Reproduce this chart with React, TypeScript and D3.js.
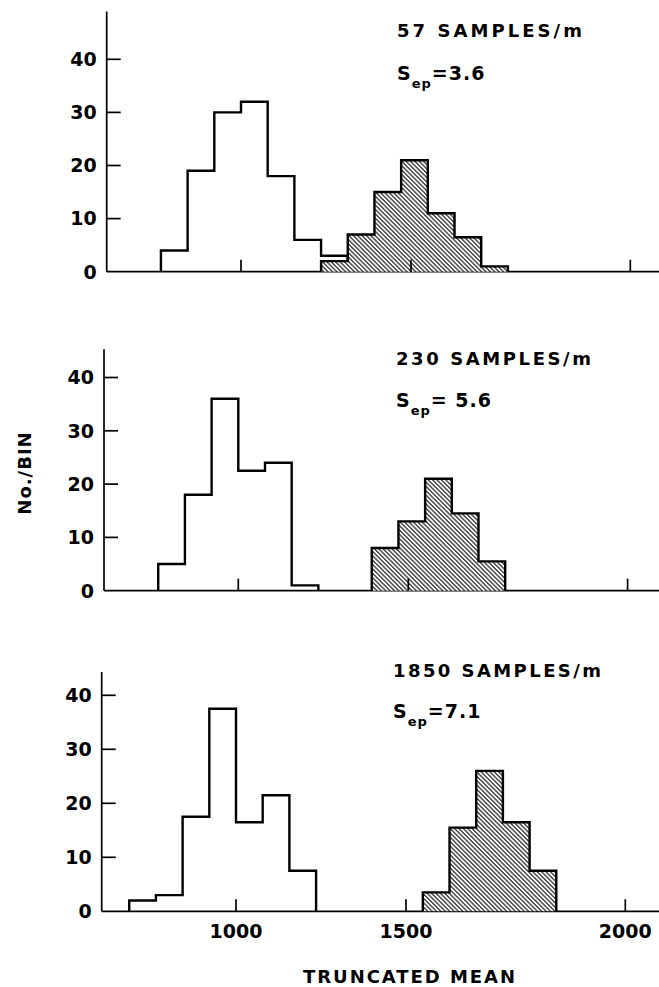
import * as d3 from 'd3';
import { useEffect, useRef } from 'react';

// bin width in truncated-mean units, bins aligned on 1000
const BIN = 78.5;

const sampleLabels = ['57 SAMPLES/m', '230 SAMPLES/m', '1850 SAMPLES/m'];
const sepValues = ['=3.6', '= 5.6', '=7.1'];

// open (unshaded) histograms
const openStarts = [764.5, 764.5, 686];
const openCounts = [
  [4, 19, 30, 32, 18, 6, 3],
  [5, 18, 36, 22.5, 24, 1],
  [2, 3, 17.5, 37.5, 16.5, 21.5, 7.5],
];

// hatched histograms
const hatchStarts = [1235.5, 1392.5, 1549.5];
const hatchCounts = [
  [2, 7, 15, 21, 11, 6.5, 1],
  [8, 13, 21, 14.5, 5.5],
  [3.5, 15.5, 26, 16.5, 7.5],
];

const yTicks = [0, 10, 20, 30, 40];
// the hand-drawn axis puts its last tick further right than a linear 2000 would sit
const xTicks = [1000, 1500, 2145];
const xTickLabels = ['1000', '1500', '2000'];

const W = 659;
const H = 987;
const FONT = "'DejaVu Sans', sans-serif";

// panel placement on the page
const panels = [
  { axisX: 106.7, base: 271.7, unit: 5.31, top: 49, textY: 37, textX: 397, sepY: 80, labelLen: 185 },
  { axisX: 104, base: 590.7, unit: 5.33, top: 45.3, textY: 365, textX: 396, sepY: 407, labelLen: 195 },
  { axisX: 101.7, base: 911.3, unit: 5.4, top: 44.3, textY: 677, textX: 393, sepY: 718, labelLen: 208 },
];

const App = () => {
  const svgRef = useRef(null);

  useEffect(() => {
    const svg = d3.select(svgRef.current).attr('width', W).attr('height', H);
    svg.selectAll('*').remove();

    const defs = svg.append('defs');
    const pat = defs.append('pattern')
      .attr('id', 'hatch')
      .attr('patternUnits', 'userSpaceOnUse')
      .attr('width', 3.1)
      .attr('height', 3.1)
      .attr('patternTransform', 'rotate(-45)');
    pat.append('rect').attr('width', 3.1).attr('height', 3.1).attr('fill', 'white');
    pat.append('line')
      .attr('x1', 1.55).attr('x2', 1.55).attr('y1', -1).attr('y2', 5)
      .attr('stroke', 'black').attr('stroke-width', 1.05);

    // x in units -> px from the y axis
    const x = d3.scaleLinear().domain([605, 2245]).range([0, 557.6]);

    const stepPoints = (start, counts) => {
      const pts = [[start, 0]];
      counts.forEach((c, i) => {
        pts.push([start + i * BIN, c]);
        pts.push([start + (i + 1) * BIN, c]);
      });
      pts.push([start + counts.length * BIN, 0]);
      return pts;
    };

    panels.forEach((p, k) => {
      const y = d3.scaleLinear().domain([0, 40]).range([p.base, p.base - 40 * p.unit]);
      const g = svg.append('g').attr('transform', `translate(${p.axisX},0)`);
      const line = d3.line().x(d => x(d[0])).y(d => y(d[1]));

      // axes
      g.append('line')
        .attr('x1', 0).attr('x2', x(2245) + 10)
        .attr('y1', y(0)).attr('y2', y(0))
        .attr('stroke', 'black').attr('stroke-width', 1.7);
      g.append('line')
        .attr('x1', 0).attr('x2', 0)
        .attr('y1', y(0)).attr('y2', y(p.top))
        .attr('stroke', 'black').attr('stroke-width', 1.7);

      // open histogram
      g.append('path')
        .attr('d', line(stepPoints(openStarts[k], openCounts[k])))
        .attr('fill', 'none')
        .attr('stroke', 'black')
        .attr('stroke-width', 2.4);

      // hatched histogram
      g.append('path')
        .attr('d', line(stepPoints(hatchStarts[k], hatchCounts[k])))
        .attr('fill', 'url(#hatch)')
        .attr('stroke', 'black')
        .attr('stroke-width', 2.4);

      // y ticks (inward) + labels
      yTicks.forEach(t => {
        if (t > 0) {
          g.append('line')
            .attr('x1', 0).attr('x2', 14)
            .attr('y1', y(t)).attr('y2', y(t))
            .attr('stroke', 'black').attr('stroke-width', 1.7);
        }
        g.append('text')
          .attr('x', -10)
          .attr('y', y(t))
          .attr('dy', '0.36em')
          .attr('text-anchor', 'end')
          .attr('font-family', FONT)
          .attr('font-weight', 'bold')
          .attr('font-size', 19)
          .text(String(t));
      });

      // x ticks (inward)
      xTicks.forEach(t => {
        g.append('line')
          .attr('x1', x(t)).attr('x2', x(t))
          .attr('y1', y(0)).attr('y2', y(0) - 12)
          .attr('stroke', 'black').attr('stroke-width', 1.7);
      });

      // annotation
      svg.append('text')
        .attr('x', p.textX)
        .attr('y', p.textY)
        .attr('font-family', FONT)
        .attr('font-weight', 'bold')
        .attr('font-size', 18)
        .attr('textLength', p.labelLen)
        .attr('lengthAdjust', 'spacing')
        .text(sampleLabels[k]);
      const sep = svg.append('text')
        .attr('x', p.textX)
        .attr('y', p.sepY)
        .attr('font-family', FONT)
        .attr('font-weight', 'bold')
        .attr('font-size', 19)
        .attr('letter-spacing', 1);
      sep.append('tspan').text('S');
      sep.append('tspan').attr('font-size', 13).attr('dy', 8).text('ep');
      sep.append('tspan').attr('dy', -8).text(sepValues[k]);

      // x tick labels on the bottom panel only
      if (k === panels.length - 1) {
        xTicks.forEach((t, i) => {
          g.append('text')
            .attr('x', x(t))
            .attr('y', 938)
            .attr('text-anchor', 'middle')
            .attr('font-family', FONT)
            .attr('font-weight', 'bold')
            .attr('font-size', 19)
            .text(xTickLabels[i]);
        });
      }
    });

    svg.append('text')
      .attr('x', 303)
      .attr('y', 983)
      .attr('font-family', FONT)
      .attr('font-weight', 'bold')
      .attr('font-size', 18)
      .attr('textLength', 212)
      .attr('lengthAdjust', 'spacing')
      .text('TRUNCATED MEAN');

    svg.append('text')
      .attr('transform', 'translate(31,473) rotate(-90)')
      .attr('text-anchor', 'middle')
      .attr('font-family', FONT)
      .attr('font-size', 18)
      .attr('font-weight', 'bold')
      .attr('letter-spacing', 1)
      .text('No./BIN');
  });

  return (
    <div style={{ position: 'absolute', left: 0, top: 0, background: 'white' }}>
      <svg ref={svgRef} style={{ display: 'block' }} />
    </div>
  );
};

export default App;
